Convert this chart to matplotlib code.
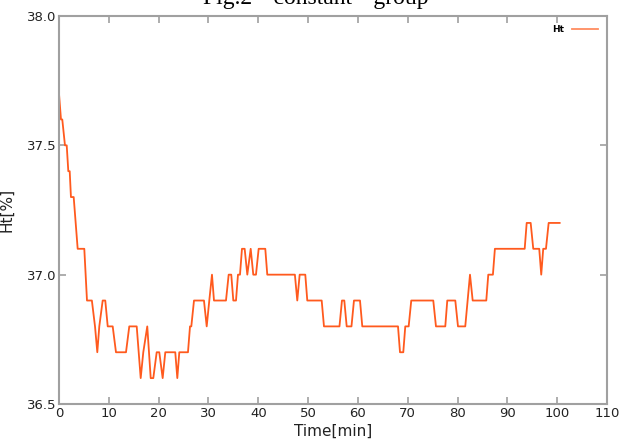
import matplotlib.pyplot as plt
from matplotlib.lines import Line2D

# corner points of the Ht trace (time in min, Ht in %)
time_min = [0.0, 0.4, 0.66, 1.2, 1.55, 1.87, 2.15, 2.4, 2.95, 3.75, 5.08, 5.62, 6.6,
            7.23, 7.69, 8.09, 8.77, 9.29, 9.78, 10.78, 11.44, 13.45, 14.11, 15.6,
            16.4, 16.92, 17.72, 18.41, 18.93, 19.61, 20.13, 20.81, 21.34, 23.34,
            23.75, 24.15, 25.89, 26.3, 26.56, 27.1, 29.1, 29.65, 30.17, 30.71,
            31.11, 33.52, 34.06, 34.58, 34.99, 35.53, 35.93, 36.33, 36.73, 37.27,
            37.8, 38.48, 39.0, 39.54, 40.08, 41.41, 41.81, 47.35, 47.83, 48.31,
            49.44, 49.84, 52.73, 53.19, 56.3, 56.8, 57.27, 57.75, 58.71, 59.21,
            60.42, 60.88, 68.05, 68.45, 69.11, 69.51, 70.19, 70.71, 75.13, 75.67,
            77.54, 77.94, 79.55, 80.09, 81.55, 82.5, 83.04, 85.77, 86.17, 87.1,
            87.5, 93.48, 93.88, 94.68, 95.2, 96.4, 96.8, 97.2, 97.75, 98.29, 100.5]
ht = [37.7, 37.6, 37.6, 37.5, 37.5, 37.4, 37.4, 37.3, 37.3, 37.1, 37.1, 36.9, 36.9,
      36.8, 36.7, 36.8, 36.9, 36.9, 36.8, 36.8, 36.7, 36.7, 36.8, 36.8,
      36.6, 36.7, 36.8, 36.6, 36.6, 36.7, 36.7, 36.6, 36.7, 36.7,
      36.6, 36.7, 36.7, 36.8, 36.8, 36.9, 36.9, 36.8, 36.9, 37.0,
      36.9, 36.9, 37.0, 37.0, 36.9, 36.9, 37.0, 37.0, 37.1, 37.1,
      37.0, 37.1, 37.0, 37.0, 37.1, 37.1, 37.0, 37.0, 36.9, 37.0,
      37.0, 36.9, 36.9, 36.8, 36.8, 36.9, 36.9, 36.8, 36.8, 36.9,
      36.9, 36.8, 36.8, 36.7, 36.7, 36.8, 36.8, 36.9, 36.9, 36.8,
      36.8, 36.9, 36.9, 36.8, 36.8, 37.0, 36.9, 36.9, 37.0, 37.0,
      37.1, 37.1, 37.2, 37.2, 37.1, 37.1, 37.0, 37.1, 37.1, 37.2, 37.2]

x_ticks = [0, 10, 20, 30, 40, 50, 60, 70, 80, 90, 100, 110]
y_ticks = [36.5, 37.0, 37.5, 38.0]

tick_font = ['DejaVu Sans']
grey = '#a0a0a0'
orange = '#ff5a1e'

fig = plt.figure(figsize=(6.19, 4.46), dpi=100)
ax = fig.add_axes([0.0953, 0.0942, 0.8853, 0.8699])

ax.plot(time_min, ht, color=orange, lw=1.3)

ax.set_xlim(0, 110)
ax.set_ylim(36.5, 38.0)
ax.set_xticks(x_ticks)
ax.set_yticks(y_ticks)
ax.set_yticklabels(['%.1f' % v for v in y_ticks])

for s in ax.spines.values():
    s.set_color(grey)
    s.set_linewidth(1.5)
ax.tick_params(direction='in', top=True, right=True, color=grey, width=1.2,
               length=5, labelsize=9.5, pad=2, labelcolor='#222222')

ax.set_xlabel('Time[min]', fontsize=11, labelpad=3, color='#222222')
ax.set_ylabel('Ht[%]', fontsize=11, labelpad=9, color='#222222')

# legend: label on the left, line on the right
handle = Line2D([], [], color='#ff8c60', lw=1.3)
leg = ax.legend([handle], ['Ht'], loc='upper right', frameon=False, markerfirst=False,
                handlelength=2.9, borderaxespad=0.6,
                prop={'size': 6.5, 'weight': 'bold'})

fig.text(0.51, 0.992, 'Fig.2  "constant"  group', ha='center', va='baseline',
         family='Liberation Serif', fontsize=17)

fig.savefig('out.png', dpi=100)
